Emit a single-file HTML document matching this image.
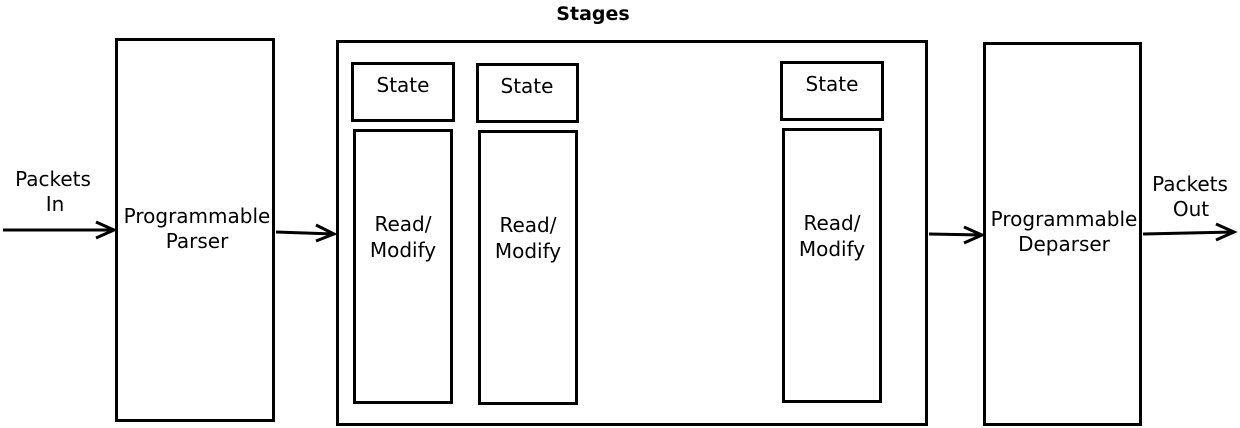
<!DOCTYPE html>
<html><head><style>body{margin:0;background:#fff}svg{display:block}</style></head>
<body>
<svg width="1240" height="428" xmlns="http://www.w3.org/2000/svg" font-family="DejaVu Sans, sans-serif" font-size="20" text-anchor="middle">
<g fill="none" stroke="#000" stroke-width="3">
<rect x="116.5" y="39.5" width="157" height="381"/>
<rect x="337.5" y="41.5" width="589" height="383"/>
<rect x="352.5" y="63.5" width="101" height="57"/>
<rect x="477.5" y="64.5" width="100" height="57"/>
<rect x="781.5" y="62.5" width="101" height="57"/>
<rect x="354.5" y="130.5" width="97" height="272"/>
<rect x="479.5" y="131.5" width="97" height="272"/>
<rect x="783.5" y="129.5" width="97" height="272"/>
<rect x="984.5" y="43.5" width="156" height="381"/>
<line x1="3" y1="230" x2="114" y2="230"/><polyline points="96,222 114,230 96,238"/>
<line x1="276" y1="232" x2="334" y2="234"/><polyline points="316,225 334,234 316,241"/>
<line x1="929" y1="234" x2="982" y2="235"/><polyline points="964,227 982,235 964,243"/>
<line x1="1143" y1="234" x2="1234" y2="232"/><polyline points="1216,224 1234,232 1216,240"/>
</g>
<text x="593" y="20" font-weight="bold" font-size="19">Stages</text>
<text x="53" y="186">Packets</text><text x="55" y="211">In</text>
<text x="197" y="223">Programmable</text><text x="197" y="248">Parser</text>
<text x="403" y="92">State</text><text x="527" y="93">State</text><text x="832" y="91">State</text>
<text x="403" y="231">Read/</text><text x="403" y="257">Modify</text>
<text x="528" y="232">Read/</text><text x="528" y="258">Modify</text>
<text x="832" y="230">Read/</text><text x="832" y="256">Modify</text>
<text x="1064" y="226">Programmable</text><text x="1064" y="251">Deparser</text>
<text x="1190" y="191">Packets</text><text x="1191" y="216">Out</text>
</svg>
</body></html>
